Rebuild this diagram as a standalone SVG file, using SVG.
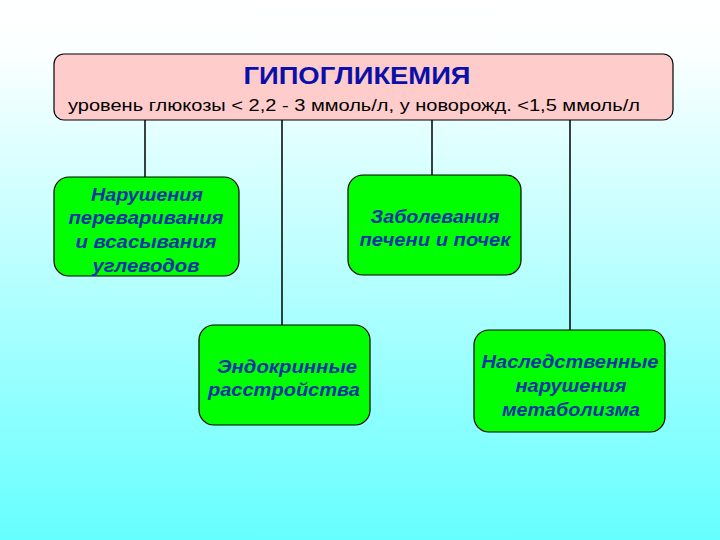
<svg xmlns="http://www.w3.org/2000/svg" width="720" height="540" viewBox="0 0 720 540">
<defs>
<linearGradient id="bg" x1="0" y1="0" x2="0" y2="1">
<stop offset="0" stop-color="#FFFFFF"/>
<stop offset="0.1" stop-color="#FBFFFF"/>
<stop offset="1" stop-color="#66FFFF"/>
</linearGradient>
<style>
.conn{stroke:#000;stroke-width:1.5;fill:none}
.box{fill:#00FF00;stroke:#000;stroke-width:1.2}
.lbl{font-family:"Liberation Sans",Arial,sans-serif;font-weight:bold;font-style:italic;font-size:18px;fill:#1034A6;text-anchor:middle}
</style>
</defs>
<rect x="0" y="0" width="720" height="540" fill="url(#bg)"/>
<g id="connectors">
<line class="conn" x1="145" y1="120" x2="145" y2="177"/>
<line class="conn" x1="282" y1="120" x2="282" y2="325"/>
<line class="conn" x1="432" y1="120" x2="432" y2="175"/>
<line class="conn" x1="570" y1="120" x2="570" y2="330"/>
</g>
<g id="root">
<rect x="54" y="54" width="619" height="66" rx="10" fill="#FFCCCC" stroke="#000" stroke-width="1.2"/>
<text x="357" y="84" font-family="'Liberation Sans',Arial,sans-serif" font-weight="bold" font-size="23" fill="#0A10A8" text-anchor="middle" textLength="227" lengthAdjust="spacingAndGlyphs">ГИПОГЛИКЕМИЯ</text>
<text x="354" y="111" font-family="'Liberation Sans',Arial,sans-serif" font-size="17" fill="#000" text-anchor="middle" textLength="572" lengthAdjust="spacingAndGlyphs">уровень глюкозы &lt; 2,2 - 3 ммоль/л, у новорожд. &lt;1,5 ммоль/л</text>
</g>
<g id="n1">
<rect class="box" x="54" y="177" width="185" height="99" rx="15"/>
<text class="lbl" x="147" y="201" textLength="112" lengthAdjust="spacingAndGlyphs">Нарушения</text>
<text class="lbl" x="146" y="224" textLength="155" lengthAdjust="spacingAndGlyphs">переваривания</text>
<text class="lbl" x="146" y="248" textLength="141" lengthAdjust="spacingAndGlyphs">и всасывания</text>
<text class="lbl" x="146" y="272" textLength="107" lengthAdjust="spacingAndGlyphs">углеводов</text>
</g>
<g id="n2">
<rect class="box" x="348" y="175" width="173" height="100" rx="15"/>
<text class="lbl" x="435" y="223" textLength="129" lengthAdjust="spacingAndGlyphs">Заболевания</text>
<text class="lbl" x="435" y="246" textLength="151" lengthAdjust="spacingAndGlyphs">печени и почек</text>
</g>
<g id="n3">
<rect class="box" x="199" y="325" width="171" height="100" rx="15"/>
<text class="lbl" x="287" y="373" textLength="140" lengthAdjust="spacingAndGlyphs">Эндокринные</text>
<text class="lbl" x="284" y="396" textLength="152" lengthAdjust="spacingAndGlyphs">расстройства</text>
</g>
<g id="n4">
<rect class="box" x="474" y="330" width="191" height="102" rx="15"/>
<text class="lbl" x="570" y="368" textLength="177" lengthAdjust="spacingAndGlyphs">Наследственные</text>
<text class="lbl" x="571" y="392" textLength="111" lengthAdjust="spacingAndGlyphs">нарушения</text>
<text class="lbl" x="571" y="416" textLength="138" lengthAdjust="spacingAndGlyphs">метаболизма</text>
</g>
</svg>
